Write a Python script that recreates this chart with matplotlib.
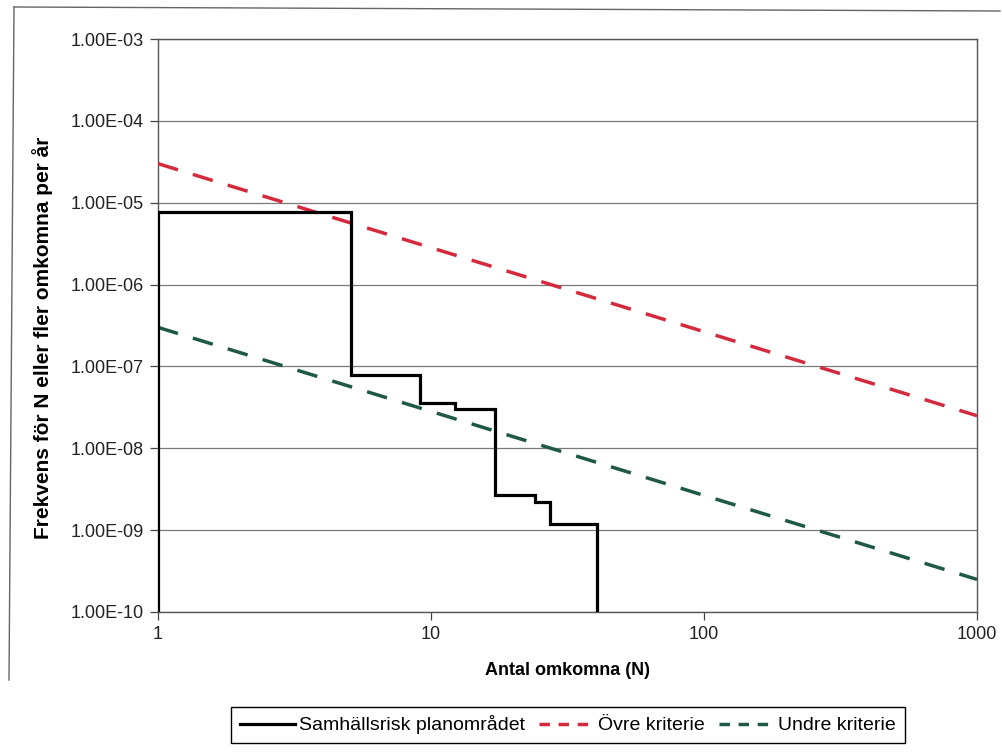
import matplotlib
matplotlib.use("Agg")
import matplotlib.pyplot as plt
from matplotlib.lines import Line2D

plt.rcParams['font.family'] = ['Liberation Sans', 'DejaVu Sans']

# Data
risk_N = [1, 1, 5.1, 9.1, 12.2, 17.2, 24.0, 27.3, 40.6]
risk_F = [1e-10, 7.6e-6, 7.9e-8, 3.55e-8, 3.0e-8, 2.7e-9, 2.2e-9, 1.2e-9, 1e-10]
crit_N = [1, 1000]
upper_F = [3.0e-5, 2.5e-8]
lower_F = [3.0e-7, 2.5e-10]
y_ticks = [1e-10, 1e-9, 1e-8, 1e-7, 1e-6, 1e-5, 1e-4, 1e-3]
y_ticklabels = ["1.00E-10", "1.00E-09", "1.00E-08", "1.00E-07",
                "1.00E-06", "1.00E-05", "1.00E-04", "1.00E-03"]
x_ticks = [1, 10, 100, 1000]
x_ticklabels = ["1", "10", "100", "1000"]
labels = ["Samhällsrisk planområdet", "Övre kriterie", "Undre kriterie"]

red = "#d42a3c"
green = "#1e5944"

fig = plt.figure(figsize=(10.03, 7.54), dpi=100)
ax = fig.add_axes([158/1003, 1-612/754, (977-158)/1003, (612-39)/754])

ax.set_xscale('log')
ax.set_yscale('log')
ax.set_xlim(1, 1000)
ax.set_ylim(1e-10, 1e-3)

for y in y_ticks:
    ax.axhline(y, color='#7a7a7a', lw=0.9, zorder=1)

l1, = ax.plot(risk_N, risk_F, drawstyle='steps-post', color='black', lw=2.3, zorder=4,
              solid_joinstyle='miter')
l2, = ax.plot(crit_N, upper_F, color=red, lw=2.5, dashes=(6, 4.5), zorder=3)
l3, = ax.plot(crit_N, lower_F, color=green, lw=2.5, dashes=(6, 4.5), zorder=3)

ax.set_yticks(y_ticks)
ax.set_yticklabels(y_ticklabels, fontsize=13, color='#222222')
ax.set_xticks(x_ticks)
ax.set_xticklabels(x_ticklabels, fontsize=13, color='#222222')
ax.minorticks_off()
ax.tick_params(axis='both', direction='out', length=6, width=0.9, color='#444444', pad=4)

for s in ax.spines.values():
    s.set_color('#555555')
    s.set_linewidth(1.0)

ax.set_xlabel("Antal omkomna (N)", fontsize=13, fontweight='bold', labelpad=14)
ax.set_ylabel("Frekvens för N eller fler omkomna per år", fontsize=15,
              fontweight='bold')
ax.yaxis.set_label_coords(-0.128, 0.478)

handles = [Line2D([], [], color='black', lw=2.3),
           Line2D([], [], color=red, lw=2.5, dashes=(3, 2.5)),
           Line2D([], [], color=green, lw=2.5, dashes=(3, 2.5))]
leg = fig.legend(handles, labels, loc='center', bbox_to_anchor=(568/1003, 1-725/754),
                 ncol=3, fontsize=14, frameon=True, fancybox=False, framealpha=1,
                 edgecolor='black', handlelength=2.8, handletextpad=0.25,
                 columnspacing=0.7, borderpad=0.45)
leg.get_frame().set_linewidth(1.0)

# outer frame of scanned chart
fig.add_artist(Line2D([14/1003, 1000/1003], [1-7/754, 1-11/754], color='#666666', lw=1.0))
fig.add_artist(Line2D([14/1003, 9/1003], [1-7/754, 1-680/754], color='#666666', lw=1.0))

fig.savefig("out.png", dpi=100, facecolor='white')
